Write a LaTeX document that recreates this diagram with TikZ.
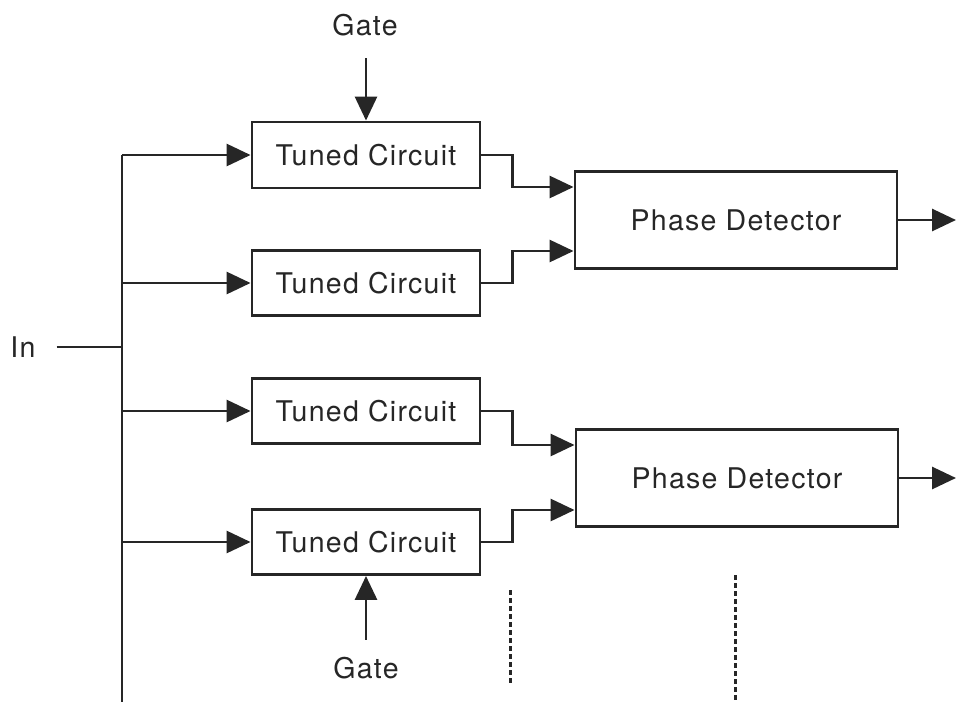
\documentclass[tikz,border=0pt]{standalone}
\usepackage{fontspec}
\setmainfont[LetterSpace=4.5]{TeX Gyre Heros}
\usetikzlibrary{arrows.meta}
\definecolor{ink}{HTML}{262626}
\tikzset{
  blk/.style={draw=ink, line width=2.9pt, inner sep=0pt, text=ink, font=\fontsize{28.5}{34}\selectfont},
  lbl/.style={inner sep=0pt, text=ink, font=\fontsize{28.5}{34}\selectfont},
  wire/.style={draw=ink, line width=2.9pt},
  arr/.style={wire, -{Triangle[length=24pt,width=22pt]}},
  dots/.style={draw=ink, line width=3pt, dash pattern=on 5pt off 3pt}
}
\begin{document}
\begin{tikzpicture}[x=1pt,y=-1pt]
\useasboundingbox (0,0) rectangle (956,702);
% blocks
\node[blk, minimum width=228pt, minimum height=66pt] (b1) at (366,155) {Tuned Circuit};
\node[blk, minimum width=228pt, minimum height=65pt] (b2) at (366,283) {Tuned Circuit};
\node[blk, minimum width=228pt, minimum height=65pt] (b3) at (366,411) {Tuned Circuit};
\node[blk, minimum width=228pt, minimum height=65pt] (b4) at (366,542) {Tuned Circuit};
\node[blk, minimum width=322pt, minimum height=97pt] (pd1) at (736,220) {Phase Detector};
\node[blk, minimum width=322pt, minimum height=97pt] (pd2) at (737,478) {Phase Detector};
% labels
\node[lbl] (in) at (23,347) {In};
\node[lbl] (g1) at (365,25) {Gate};
\node[lbl] (g2) at (366,668) {Gate};
% coordinates
\coordinate (bus) at (122,347);
\coordinate (busbot) at (122,702);
\coordinate (o1) at (956,220);
\coordinate (o2) at (956,478);
% input bus
\draw[wire] (bus |- b1.west) -- (busbot);
\draw[wire] ([xshift=21pt]in.east) -- (bus);
\draw[arr] (bus |- b1.west) -- (b1.west);
\draw[arr] (bus |- b2.west) -- (b2.west);
\draw[arr] (bus |- b3.west) -- (b3.west);
\draw[arr] (bus |- b4.west) -- (b4.west);
% gates
\draw[arr, shorten <=22pt] (g1.south -| b1.north) -- (b1.north);
\draw[arr, shorten <=17pt] (g2.north -| b4.south) -- (b4.south);
% to phase detectors
\draw[arr] (b1.east) -- ++(31,0) |- ([yshift=33pt]pd1.west);
\draw[arr] (b2.east) -- ++(31,0) |- ([yshift=-31pt]pd1.west);
\draw[arr] (b3.east) -- ++(31,0) |- ([yshift=33pt]pd2.west);
\draw[arr] (b4.east) -- ++(31,0) |- ([yshift=-32pt]pd2.west);
% outputs
\draw[arr] (pd1.east) -- (o1);
\draw[arr] (pd2.east) -- (o2);
% continuation dots
\draw[dots] (510,590) -- (510,684);
\draw[dots] (735,575) -- (735,700);
\end{tikzpicture}
\end{document}
